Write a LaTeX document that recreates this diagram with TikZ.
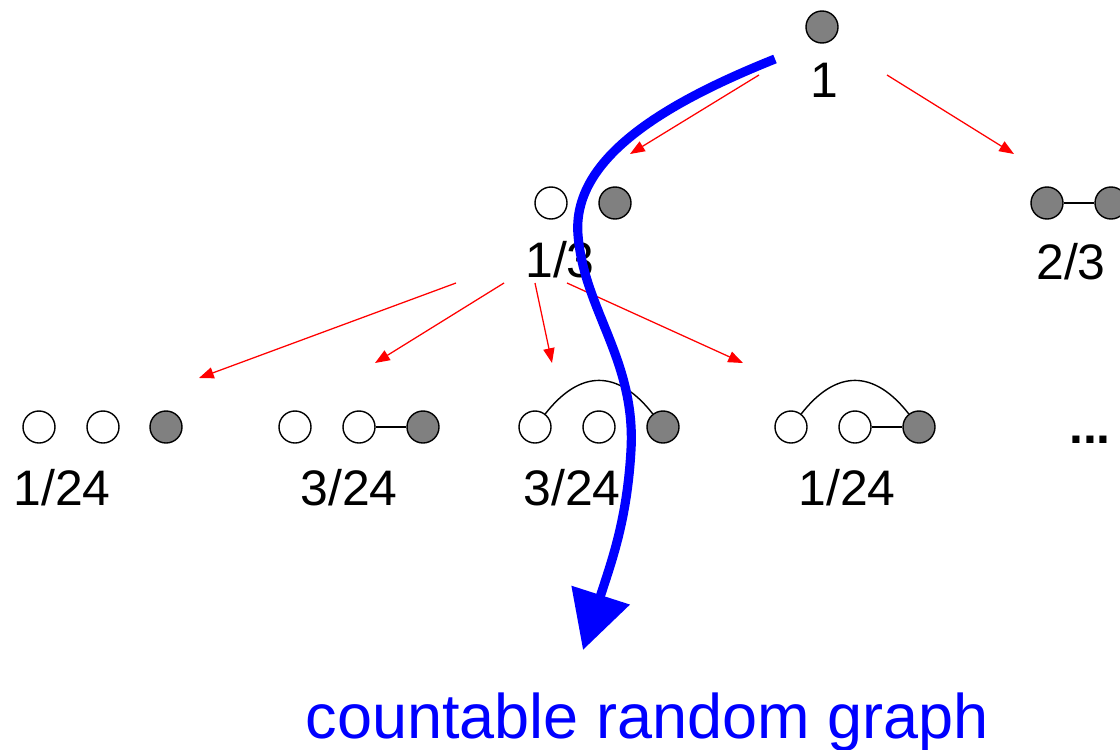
\documentclass[tikz,border=0pt]{standalone}
\usepackage{fontspec}
\setmainfont{Liberation Sans}
\usepackage{tikz}
\usetikzlibrary{arrows.meta}

\begin{document}
\begin{tikzpicture}[
        x=0.025cm, y=-0.025cm,
        vtx/.style={circle, draw, line width=1pt, fill=white, minimum size=0.8cm, inner sep=0pt},
        hit/.style={vtx, fill=black!50},
        prob/.style={anchor=base, inner sep=0pt, font=\fontsize{35.5}{40}\selectfont},
        link/.style={line width=1pt},
        split/.style={red, line width=0.9pt, -{Triangle[length=10.5pt,width=8pt]}},
        walk/.style={blue, line width=6.5pt, -{Triangle[length=41pt,width=42pt]}}
        ]
        \useasboundingbox (0,0) rectangle (1120,750);

        % Root
        \node (v0) [hit] at (822,27) {};
        \node (l0) [prob] at (824,97) {1};

        % Second level
        \node (a1) [vtx] at (551,203) {};
        \node (a2) [hit] at (615,203) {};
        \node (la) [prob] at (560,277) {1/3};

        \node (b1) [hit] at (1047,203) {};
        \node (b2) [hit] at (1111,203) {};
        \draw [link] (b1) -- (b2);
        \node (lb) [prob] at (1071,279) {2/3};

        % Third level
        \node (p1) [vtx] at (39,427) {};
        \node (p2) [vtx] at (103,427) {};
        \node (p3) [hit] at (166,427) {};
        \node (lp) [prob] at (62,505) {1/24};

        \node (q1) [vtx] at (295,427) {};
        \node (q2) [vtx] at (359,427) {};
        \node (q3) [hit] at (423,427) {};
        \draw [link] (q2) -- (q3);
        \node (lq) [prob] at (349,505) {3/24};

        \node (r1) [vtx] at (535,427) {};
        \node (r2) [vtx] at (599,427) {};
        \node (r3) [hit] at (663,427) {};
        \draw [link] (r1.52) to[out=52, in=128, looseness=1.35] (r3.128);
        \node (lr) [prob] at (572,505) {3/24};

        \node (s1) [vtx] at (791,427) {};
        \node (s2) [vtx] at (855,427) {};
        \node (s3) [hit] at (919,427) {};
        \draw [link] (s2) -- (s3);
        \draw [link] (s1.52) to[out=52, in=128, looseness=1.35] (s3.128);
        \node (ls) [prob] at (847,505) {1/24};

        \node (more) [prob, font=\fontsize{35.5}{40}\selectfont\bfseries] at (1090,443) {...};

        % Red branching arrows
        \coordinate (o1) at (759,75);   \coordinate (e1) at (630,154);
        \coordinate (o2) at (887,75);   \coordinate (e2) at (1014,154);
        \coordinate (o3) at (456,283);  \coordinate (e3) at (199,378);
        \coordinate (o4) at (504,283);  \coordinate (e4) at (375,363);
        \coordinate (o5) at (535,283);  \coordinate (e5) at (552,363);
        \coordinate (o6) at (567,283);  \coordinate (e6) at (743,363);

        \draw [split] (o1) -- (e1);
        \draw [split] (o2) -- (e2);
        \draw [split] (o3) -- (e3);
        \draw [split] (o4) -- (e4);
        \draw [split] (o5) -- (e5);
        \draw [split] (o6) -- (e6);

        % Blue path down the tree
        \coordinate (w0) at (775,59);
        \coordinate (w1) at (583,650);
        \draw [walk] (w0) .. controls (660,105) and (572,160) .. (578,235)
                          .. controls (584,310) and (636,360) .. (631,450)
                          .. controls (627,520) and (612,560) .. (w1);

        \node (goal) [anchor=base, inner sep=0pt, blue, font=\fontsize{44.8}{50}\selectfont] at (647,738) {countable random graph};

    \end{tikzpicture}
\end{document}
